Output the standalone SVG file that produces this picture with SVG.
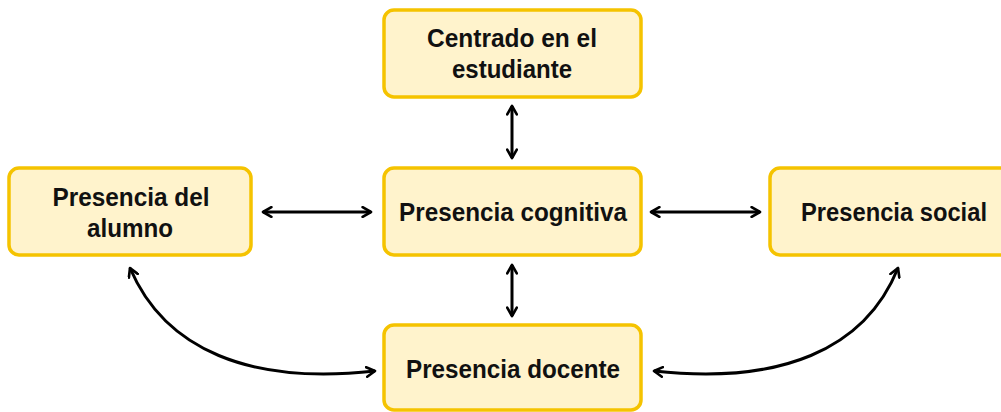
<svg xmlns="http://www.w3.org/2000/svg" width="1001" height="412" viewBox="0 0 1001 412">
<defs>
<style>
.box{fill:#FFF3CC;stroke:#F5C300;stroke-width:3.5}
.t{font-family:"Liberation Sans",Arial,sans-serif;font-weight:bold;font-size:25px;fill:#111;text-anchor:middle}
.c{fill:none;stroke:#000;stroke-width:3;marker-start:url(#a);marker-end:url(#a)}
</style>
<marker id="a" viewBox="0 0 10 10" refX="8" refY="5" markerWidth="4" markerHeight="4" orient="auto-start-reverse" markerUnits="strokeWidth">
<path d="M1,1 L8,5 L1,9" fill="none" stroke="#000" stroke-width="2.2" stroke-linecap="round" stroke-linejoin="round"/>
</marker>
</defs>
<rect width="1001" height="412" fill="#fff"/>
<g id="connectors">
<path class="c" d="M512,106 V158"/>
<path class="c" d="M512,265 V316"/>
<path class="c" d="M263,212 H371"/>
<path class="c" d="M651,212 H760"/>
<path class="c" d="M130,268 C165,350 250,385 375,371"/>
<path class="c" d="M654,371 C780,385 865,350 898,268"/>
</g>
<g id="centrado">
<rect class="box" x="384" y="10" width="257" height="87" rx="10"/>
<text class="t" x="512" y="47" textLength="170" lengthAdjust="spacingAndGlyphs">Centrado en el</text>
<text class="t" x="512" y="78" textLength="120" lengthAdjust="spacingAndGlyphs">estudiante</text>
</g>
<g id="alumno">
<rect class="box" x="9" y="168" width="242" height="87" rx="10"/>
<text class="t" x="131" y="206" textLength="157" lengthAdjust="spacingAndGlyphs">Presencia del</text>
<text class="t" x="130" y="237" textLength="86" lengthAdjust="spacingAndGlyphs">alumno</text>
</g>
<g id="cognitiva">
<rect class="box" x="384" y="168" width="257" height="87" rx="10"/>
<text class="t" x="513" y="221" textLength="228" lengthAdjust="spacingAndGlyphs">Presencia cognitiva</text>
</g>
<g id="social">
<rect class="box" x="770" y="168" width="245" height="87" rx="10"/>
<text class="t" x="894" y="221" textLength="186" lengthAdjust="spacingAndGlyphs">Presencia social</text>
</g>
<g id="docente">
<rect class="box" x="384" y="325" width="257" height="85" rx="10"/>
<text class="t" x="513" y="378" textLength="214" lengthAdjust="spacingAndGlyphs">Presencia docente</text>
</g>
</svg>
